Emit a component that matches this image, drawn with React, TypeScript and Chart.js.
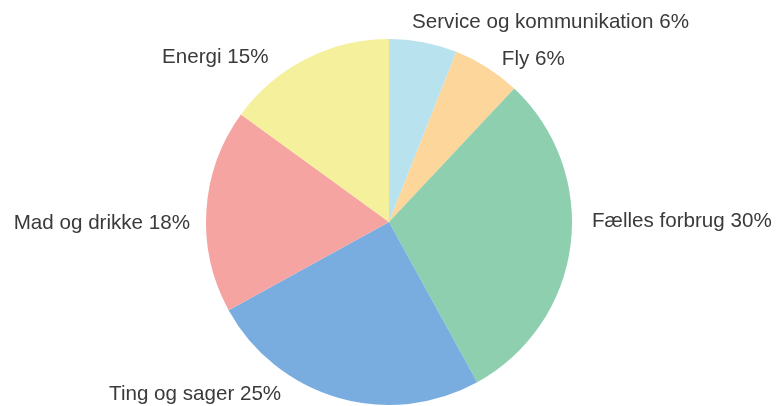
import React, { useEffect, useRef } from "react";
import { Chart, registerables } from "chart.js";

Chart.register(...registerables);

const categories = [
  "Service og kommunikation",
  "Fly",
  "Fælles forbrug",
  "Ting og sager",
  "Mad og drikke",
  "Energi",
];
const shares = [6, 6, 30, 25, 18, 15];
const colors = ["#b7e2ee", "#fdd69b", "#8dcfae", "#7aaddf", "#f5a4a2", "#f5f09c"];

// small layout nudges for outer labels (px)
const labelNudgeY = [0, 9, -26, 1, 14, 16];
const labelNudgeX = [-15, -9, 0, 0, 4, -2];

const outerLabels = {
  id: "outerLabels",
  afterDatasetsDraw(chart: any) {
    const ctx = chart.ctx;
    const meta = chart.getDatasetMeta(0);
    const H = chart.height;
    ctx.save();
    ctx.font = "20.6px 'Liberation Sans', Arial, sans-serif";
    ctx.fillStyle = "#3a3a3a";
    ctx.textBaseline = "middle";
    meta.data.forEach((arc: any, i: number) => {
      const { x: cx, y: cy, startAngle, endAngle, outerRadius } = arc.getProps(
        ["x", "y", "startAngle", "endAngle", "outerRadius"],
        true
      );
      const mid = (startAngle + endAngle) / 2;
      const R = outerRadius + 20;
      let y = cy + R * Math.sin(mid) + labelNudgeY[i];
      y = Math.max(20, Math.min(H - 12, y));
      const dy = y - cy;
      const dx = Math.sqrt(Math.max(0, R * R - dy * dy));
      const right = Math.cos(mid) >= 0;
      const x = (right ? cx + dx : cx - dx) + labelNudgeX[i];
      ctx.textAlign = right ? "left" : "right";
      ctx.fillText(`${categories[i]} ${shares[i]}%`, x, y);
    });
    ctx.restore();
  },
};

export default function App() {
  const ref = useRef<HTMLCanvasElement>(null);
  useEffect(() => {
    document.body.style.margin = "0";
    const chart = new Chart(ref.current!, {
      type: "pie",
      data: {
        labels: categories,
        datasets: [
          {
            data: shares,
            backgroundColor: colors,
            borderWidth: 0,
          },
        ],
      },
      options: {
        animation: false,
        responsive: false,
        layout: { padding: { left: 206, right: 204, top: 39, bottom: 1 } },
        plugins: { legend: { display: false }, tooltip: { enabled: false } },
      },
      plugins: [outerLabels],
    });
    return () => chart.destroy();
  }, []);
  return (
    <div style={{ width: 776, height: 406 }}>
      <canvas ref={ref} width={776} height={406} style={{ display: "block" }} />
    </div>
  );
}
